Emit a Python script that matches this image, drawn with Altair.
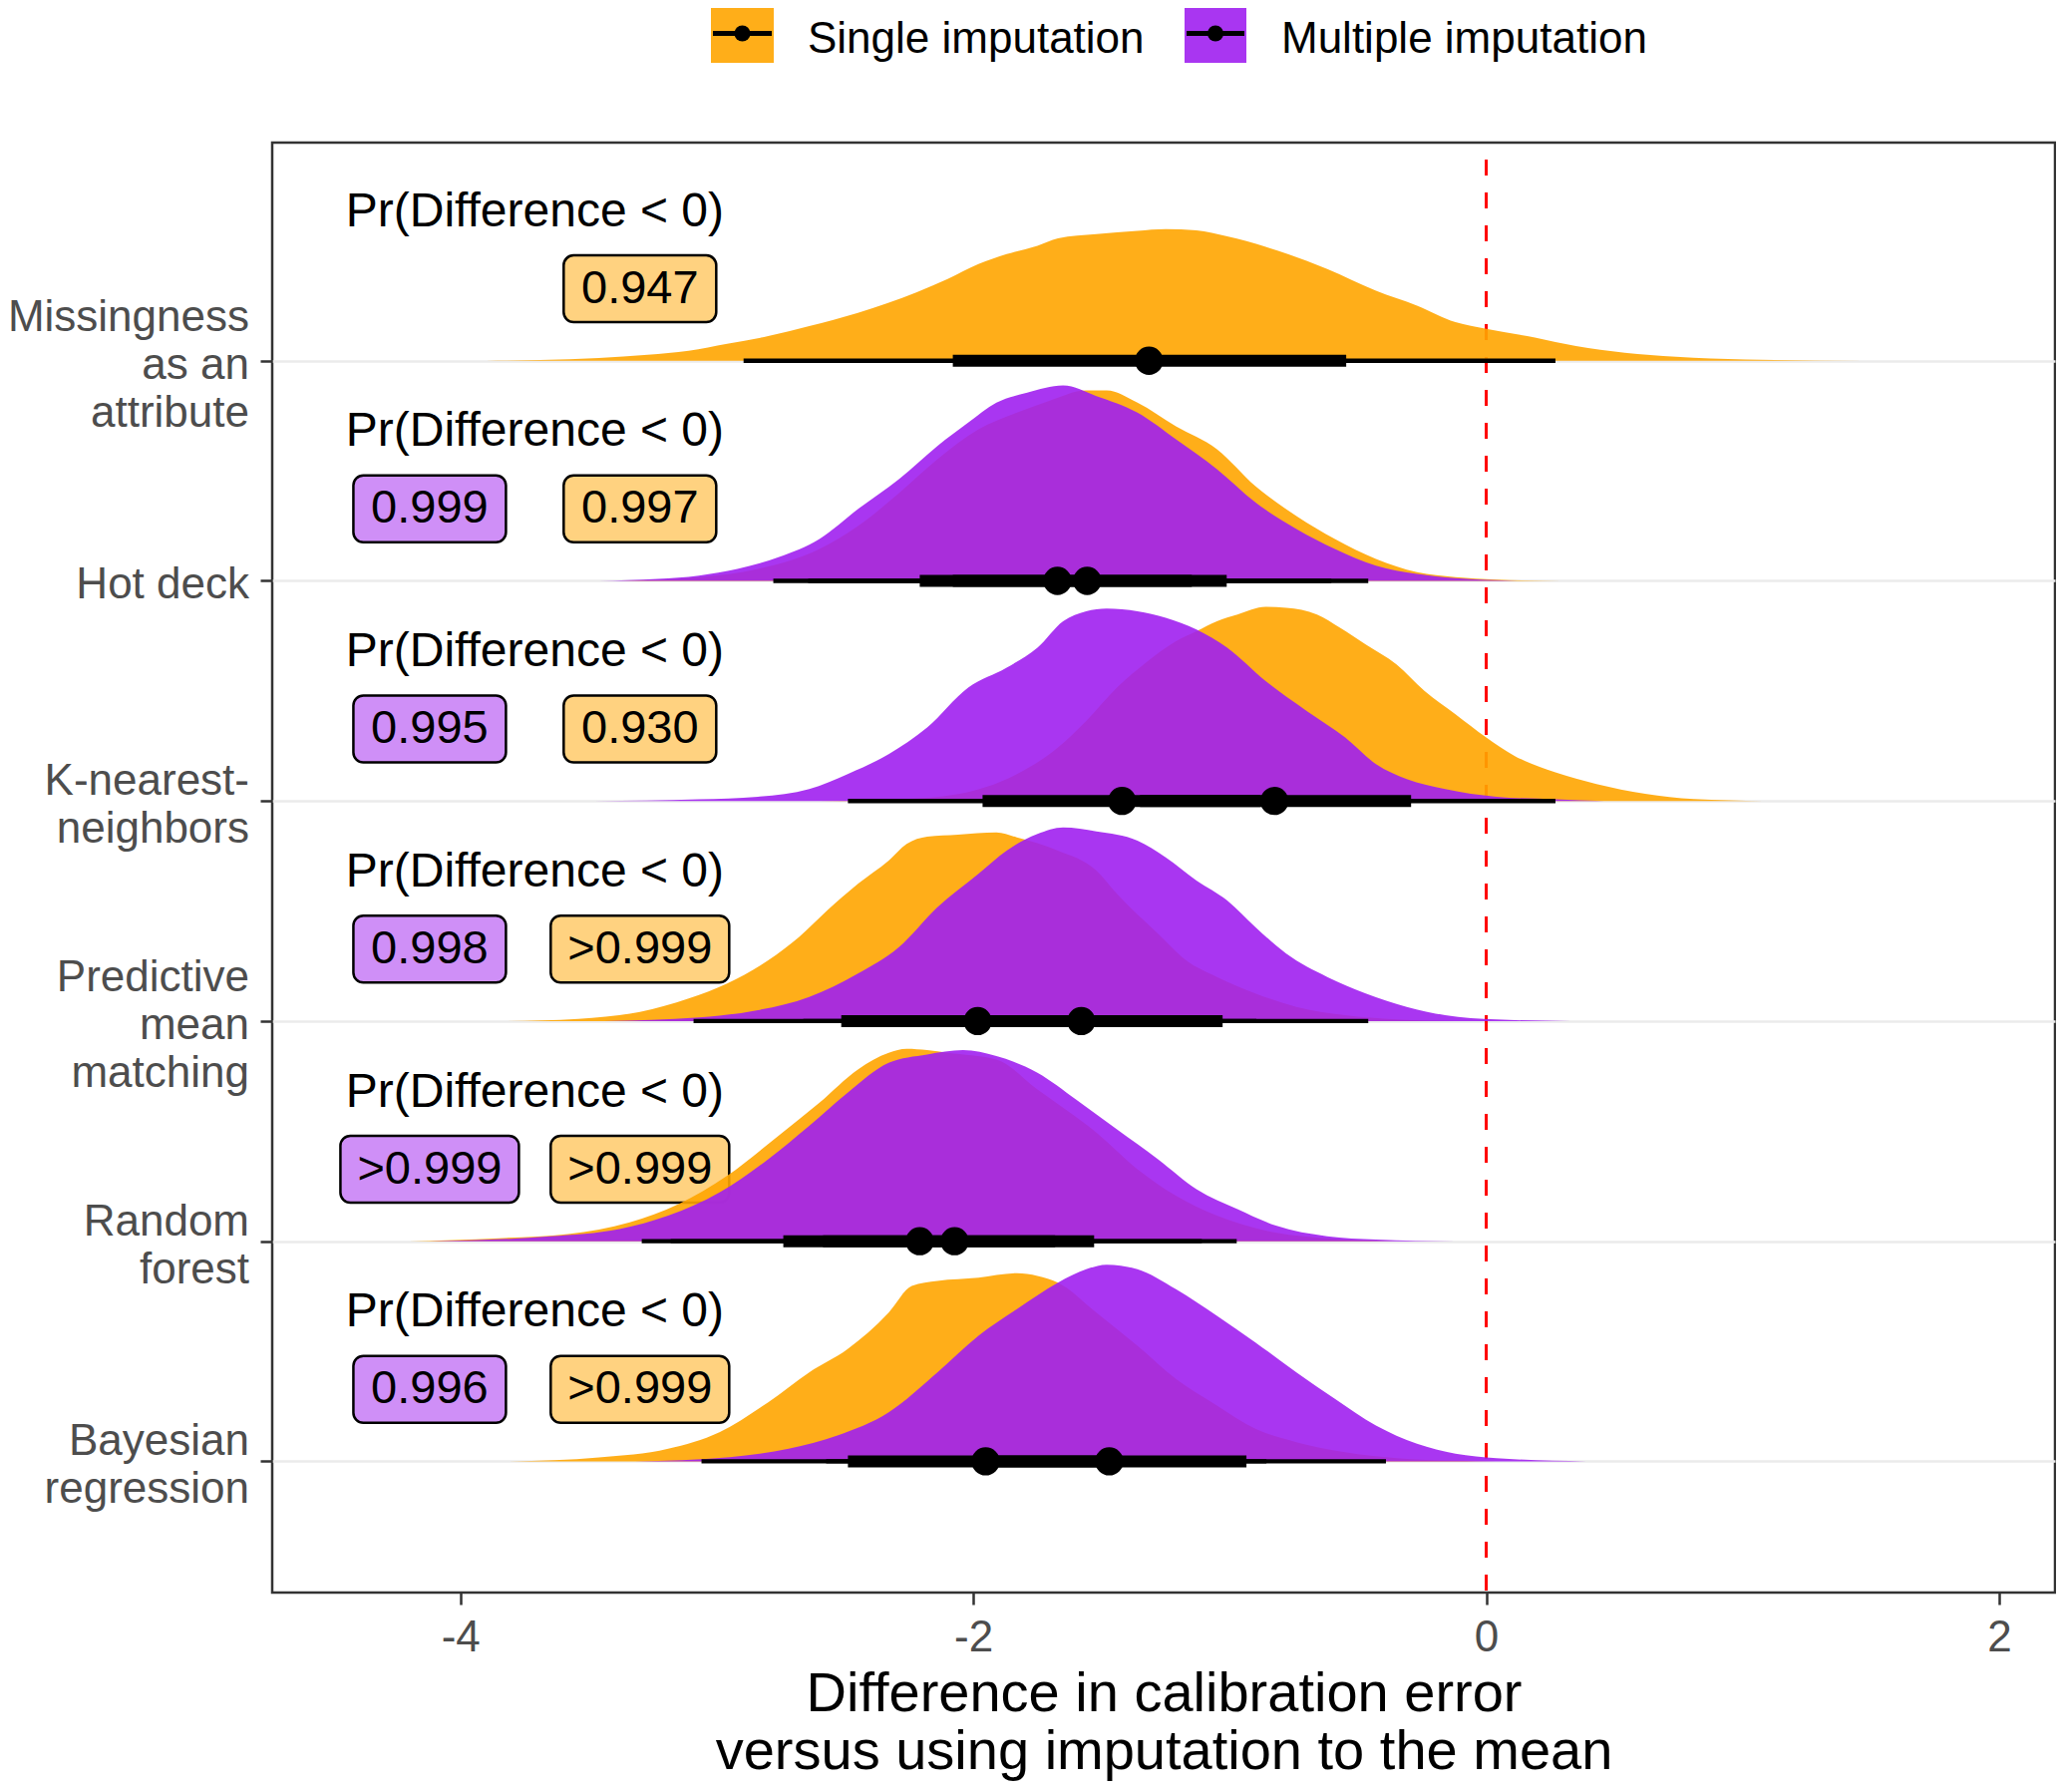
import altair as alt
import pandas as pd

FONT = "Liberation Sans"

# ---------------- data ----------------
METHODS = ["Missingness as an attribute", "Hot deck", "K-nearest-neighbors",
           "Predictive mean matching", "Random forest", "Bayesian regression"]
METHOD_LINES = [["Missingness", "as an", "attribute"], ["Hot deck"], ["K-nearest-", "neighbors"],
                ["Predictive", "mean", "matching"], ["Random", "forest"], ["Bayesian", "regression"]]
IMPUTATIONS = ["Single imputation", "Multiple imputation"]
FILL = {"Single imputation": "#FFA500", "Multiple imputation": "#A020F0"}
LABEL_FILL = {"Single imputation": "#FFD280", "Multiple imputation": "#CF8FF7"}

X_TICKS = [-4, -2, 0, 2]
X_TITLE = ["Difference in calibration error", "versus using imputation to the mean"]

# posterior densities (x = difference, d = density height)
MISS_SI_X = [-3.90, -3.69, -3.46, -3.27, -3.11, -2.96, -2.80, -2.64, -2.45, -2.22, -2.10, -1.98, -1.87, -1.75,
             -1.67, -1.52, -1.36, -1.25, -1.13, -1.01, -0.86, -0.62, -0.43, -0.27, -0.12, 0.00, 0.19, 0.35,
             0.54, 0.74, 1.01, 1.47]
MISS_SI_D = [0, 0.7, 2.7, 6, 10, 17, 24.7, 34.7, 48, 68.7, 82, 97, 107, 115.3, 122.7, 127, 130.3, 132, 130.7,
             124.7, 114.3, 92, 70.3, 55.3, 38.7, 32, 23.3, 14.7, 8, 4, 1.3, 0]

HOT_SI_X = [-3.38, -3.07, -2.84, -2.60, -2.45, -2.29, -2.14, -1.98, -1.83, -1.71, -1.56, -1.48, -1.36, -1.21,
            -1.05, -0.90, -0.74, -0.59, -0.43, -0.27, -0.12, 0.04, 0.29]
HOT_SI_D = [0, 3.7, 12, 32, 55, 88, 122, 152, 168.7, 180, 191, 191, 178.7, 155, 132, 95, 65, 42, 22, 8.7, 3.7,
            1.3, 0]
HOT_MI_X = [-3.46, -3.23, -3.07, -2.92, -2.76, -2.60, -2.45, -2.29, -2.14, -2.02, -1.91, -1.79, -1.65, -1.52,
            -1.36, -1.21, -1.05, -0.90, -0.74, -0.59, -0.43, -0.27, -0.12, 0.12]
HOT_MI_D = [0, 2, 5.3, 12, 23.7, 42, 72, 102, 135.3, 158.7, 178.7, 188.7, 196, 185.3, 168.7, 142, 112, 78.7,
            52, 32, 15.3, 7, 2.7, 0]

KNN_SI_X = [-2.60, -2.29, -2.06, -1.83, -1.67, -1.56, -1.44, -1.32, -1.21, -1.13, -1.05, -0.97, -0.86, -0.78,
            -0.66, -0.57, -0.47, -0.35, -0.24, -0.12, 0.00, 0.11, 0.27, 0.43, 0.62, 0.81, 1.08]
KNN_SI_D = [0, 1.7, 7, 27, 53.7, 80.3, 113.7, 140.3, 160.3, 170.3, 180.3, 187, 194.7, 193.7, 187, 173.7, 157,
            137, 110.3, 87, 63.7, 45.3, 28.7, 17, 7.3, 2, 0]
KNN_MI_X = [-3.48, -3.07, -2.84, -2.64, -2.49, -2.33, -2.18, -2.02, -1.87, -1.75, -1.65, -1.56, -1.48, -1.36,
            -1.25, -1.13, -1.01, -0.86, -0.70, -0.55, -0.43, -0.31, -0.16, 0.04, 0.27, 0.46]
KNN_MI_D = [0, 1.7, 4.3, 12, 27, 47, 73.7, 113.7, 133.7, 153.7, 180.3, 190.3, 193, 190.3, 183.7, 172, 153.7,
            120.3, 90.3, 63.7, 37, 22, 12, 4.3, 1.7, 0]

PMM_SI_X = [-3.83, -3.54, -3.30, -3.11, -2.96, -2.80, -2.68, -2.57, -2.45, -2.33, -2.26, -2.18, -2.06, -1.91,
            -1.83, -1.67, -1.52, -1.44, -1.28, -1.17, -1.05, -0.90, -0.74, -0.55, -0.35, -0.12]
PMM_SI_D = [0, 2.3, 9.3, 22.7, 37.7, 61, 84.3, 111, 137.7, 161, 177.7, 185, 187, 189.3, 184.3, 171, 151, 127.7,
            87.7, 61, 44.3, 27.7, 14.3, 6, 1.7, 0]
PMM_MI_X = [-3.44, -3.07, -2.84, -2.64, -2.45, -2.29, -2.14, -1.98, -1.87, -1.75, -1.65, -1.52, -1.36, -1.25,
            -1.13, -1.01, -0.90, -0.78, -0.62, -0.47, -0.31, -0.16, 0.04, 0.33]
PMM_MI_D = [0, 3.7, 11, 24.3, 47.7, 74.3, 114.3, 147.7, 171, 187.7, 194.3, 190.3, 181, 164.3, 141, 121, 94.3,
            67.7, 44.3, 27.7, 14.3, 6, 1.7, 0]

RF_SI_X = [-4.20, -3.85, -3.58, -3.34, -3.15, -2.96, -2.76, -2.60, -2.45, -2.33, -2.26, -2.18, -2.10, -1.91,
           -1.75, -1.52, -1.36, -1.21, -1.05, -0.86, -0.62, -0.35]
RF_SI_D = [0, 3, 7.3, 19, 37.3, 65.7, 105.7, 139, 172.3, 189, 193, 191.7, 189, 182.3, 152.3, 109, 72.3, 45.7,
           25.7, 10.7, 3, 0]
RF_MI_X = [-4.12, -3.65, -3.38, -3.19, -2.99, -2.80, -2.64, -2.49, -2.33, -2.18, -2.04, -1.91, -1.75, -1.60,
           -1.44, -1.28, -1.13, -0.97, -0.82, -0.62, -0.43, -0.12]
RF_MI_D = [0, 5, 12.3, 25.7, 49, 82.3, 115.7, 149, 179, 187.3, 191.7, 185.7, 169, 142.3, 112.3, 82.3, 52.3,
           32.3, 15.7, 5, 1.7, 0]

BAY_SI_X = [-3.81, -3.46, -3.19, -2.99, -2.80, -2.64, -2.49, -2.33, -2.24, -2.14, -1.98, -1.83, -1.75, -1.67,
            -1.52, -1.36, -1.21, -1.05, -0.90, -0.74, -0.55, -0.35, -0.12, 0.04]
BAY_SI_D = [0, 4, 12.7, 29.3, 59.3, 89.3, 112.7, 149.3, 176, 181, 184.3, 188.7, 186, 179.3, 149.3, 116, 82.7,
            56, 32.7, 19.3, 9.3, 3.3, 0.7, 0]
BAY_MI_X = [-3.32, -2.95, -2.72, -2.53, -2.33, -2.14, -1.98, -1.83, -1.67, -1.56, -1.48, -1.36, -1.21, -1.05,
            -0.90, -0.74, -0.59, -0.43, -0.27, -0.12, 0.04, 0.39]
BAY_MI_D = [0, 4.3, 12.7, 26, 49.3, 89.3, 126, 152.7, 179.3, 192.7, 197.3, 192.7, 172.7, 146, 119.3, 89.3,
            62.7, 36, 17.7, 7.7, 3.3, 0]

SI_DENS = [(MISS_SI_X, MISS_SI_D), (HOT_SI_X, HOT_SI_D), (KNN_SI_X, KNN_SI_D),
           (PMM_SI_X, PMM_SI_D), (RF_SI_X, RF_SI_D), (BAY_SI_X, BAY_SI_D)]
MI_DENS = [None, (HOT_MI_X, HOT_MI_D), (KNN_MI_X, KNN_MI_D),
           (PMM_MI_X, PMM_MI_D), (RF_MI_X, RF_MI_D), (BAY_MI_X, BAY_MI_D)]

# point + interval summaries (median, 66% and 95% intervals)
SI_MED = [-1.315, -1.556, -0.826, -1.983, -2.209, -1.952]
SI_LO66 = [-2.080, -2.080, -1.350, -2.515, -2.741, -2.489]
SI_HI66 = [-0.546, -1.012, -0.293, -1.459, -1.681, -1.420]
SI_LO95 = [-2.896, -2.644, -1.950, -3.091, -3.293, -3.060]
SI_HI95 = [0.270, -0.460, 0.270, -0.896, -1.109, -0.857]

MI_MED = [None, -1.672, -1.420, -1.579, -2.073, -1.470]
MI_LO66 = [None, -2.209, -1.964, -2.100, -2.586, -1.906]
MI_HI66 = [None, -1.148, -0.880, -1.028, -1.529, -0.935]
MI_LO95 = [None, -2.780, -2.489, -2.663, -3.180, -2.574]
MI_HI95 = [None, -0.604, -0.350, -0.460, -0.973, -0.391]

PR_TEXT = "Pr(Difference < 0)"
SI_PROB = ["0.947", "0.997", "0.930", ">0.999", ">0.999", ">0.999"]
MI_PROB = [None, "0.999", "0.995", "0.998", ">0.999", "0.996"]

# annotation placement (data units)
PR_X, PR_DY = -3.71, 0.612
BOX_X = {"Single imputation": -3.30, "Multiple imputation": -4.12}
BOX_DY = 0.327

# ---------------- layout ----------------
ROW_PX = 220.76
LABEL_LINE_PX = 48
X_DOMAIN = [-4.734, 2.218]
Y_DOMAIN = [0.404, 6.991]
W, H = 1788, 1454

n = len(METHODS)


def row_of(i):
    return n - i


dens_rows, int_rows, lab_rows, pr_rows, ylab_rows = [], [], [], [], []
for i, m in enumerate(METHODS):
    r = row_of(i)
    pr_rows.append({"method": m, "x": PR_X, "y": r + PR_DY, "text": PR_TEXT})
    lines = METHOD_LINES[i]
    for k, line in enumerate(lines):
        ylab_rows.append({"text": line, "y": r + ((len(lines) - 1) / 2 - k) * LABEL_LINE_PX / ROW_PX})
    per_imp = [
        ("Single imputation", SI_DENS[i], SI_MED[i], SI_LO66[i], SI_HI66[i], SI_LO95[i], SI_HI95[i], SI_PROB[i]),
        ("Multiple imputation", MI_DENS[i], MI_MED[i], MI_LO66[i], MI_HI66[i], MI_LO95[i], MI_HI95[i], MI_PROB[i]),
    ]
    for imp, dens, med, lo66, hi66, lo95, hi95, prob in per_imp:
        if dens is not None:
            for x, d in zip(*dens):
                dens_rows.append({"method": m, "imputation": imp, "x": x, "base": r, "top": r + d / ROW_PX})
        if med is not None:
            int_rows.append({"method": m, "imputation": imp, "row": r, "med": med,
                             "lo66": lo66, "hi66": hi66, "lo95": lo95, "hi95": hi95})
        if prob is not None:
            lab_rows.append({"method": m, "imputation": imp, "text": prob, "bx": BOX_X[imp],
                             "by": r + BOX_DY, "fill": LABEL_FILL[imp]})

dens_df = pd.DataFrame(dens_rows)
int_df = pd.DataFrame(int_rows)
lab_df = pd.DataFrame(lab_rows)
pr_df = pd.DataFrame(pr_rows)
ylab_df = pd.DataFrame(ylab_rows)

xs = alt.Scale(domain=X_DOMAIN, nice=False, zero=False)
ys = alt.Scale(domain=Y_DOMAIN, nice=False, zero=False)

x_axis = alt.Axis(values=X_TICKS, labelExpr="datum.value < 0 ? '-' + abs(datum.value) : '' + datum.value",
                  grid=False, domain=False, tickSize=12, tickWidth=2.5, tickColor="#333333",
                  labelFont=FONT, labelFontSize=44, labelColor="#4D4D4D", labelPadding=11,
                  title=X_TITLE, titleFont=FONT, titleFontSize=56, titleFontWeight="normal",
                  titleColor="black", titleLineHeight=58, titlePadding=7)
y_axis = alt.Axis(values=[row_of(i) for i in range(n)], labels=False,
                  grid=True, gridColor="#EBEBEB", gridWidth=2.7, domain=False,
                  tickSize=12, tickWidth=2.5, tickColor="#333333", title=None)


def X(field):
    return alt.X(field, type="quantitative", scale=xs, axis=x_axis)


def Y(field):
    return alt.Y(field, type="quantitative", scale=ys, axis=y_axis)


vline = alt.Chart(pd.DataFrame({"zero": [0]})).mark_rule(
    color="#FF0000", strokeWidth=3, strokeDash=[16, 17], strokeDashOffset=16
).encode(x=X("zero"))

# category labels on the left of the panel
ylabels = alt.Chart(ylab_df).mark_text(font=FONT, fontSize=44, color="#4D4D4D", align="right",
                                       baseline="middle", dy=5).encode(
    x=alt.value(-23), y=Y("y"), text="text:N")

box_common = dict(height=67, cornerRadius=10, stroke="black", strokeWidth=2.5)
box_enc = dict(x=X("bx"), y=Y("by"), fill=alt.Fill("fill:N", scale=None))
boxes5 = alt.Chart(lab_df).transform_filter("length(datum.text) <= 5").mark_rect(
    width=153, **box_common).encode(**box_enc)
boxes6 = alt.Chart(lab_df).transform_filter("length(datum.text) > 5").mark_rect(
    width=179, **box_common).encode(**box_enc)
box_text = alt.Chart(lab_df).mark_text(font=FONT, fontSize=47, color="black", align="center",
                                       baseline="middle").encode(x=X("bx"), y=Y("by"), text="text:N")
pr_text = alt.Chart(pr_df).mark_text(font=FONT, fontSize=48, color="black", align="center",
                                     baseline="alphabetic").encode(x=X("x"), y=Y("y"), text="text:N")


def dens_layer(imp):
    return alt.Chart(dens_df).transform_filter(alt.datum.imputation == imp).mark_area(
        interpolate="monotone", opacity=0.9, color=FILL[imp]
    ).encode(x=X("x"), y=Y("top"), y2="base:Q", detail="method:N")


thin = alt.Chart(int_df).mark_rule(color="black", strokeWidth=4.3, strokeCap="butt").encode(
    x=X("lo95"), x2="hi95:Q", y=Y("row"))
thick = alt.Chart(int_df).mark_rule(color="black", strokeWidth=12, strokeCap="butt").encode(
    x=X("lo66"), x2="hi66:Q", y=Y("row"))
pts = alt.Chart(int_df).mark_point(filled=True, shape="circle", size=800, color="black", opacity=1).encode(
    x=X("med"), y=Y("row"))

# legend (drawn by hand above the panel)
legend_layers = []
LEG_KEY_X = {"Single imputation": (440, 503), "Multiple imputation": (915, 977)}
LEG_TEXT_X = {"Single imputation": 537, "Multiple imputation": 1012}
for imp in IMPUTATIONS:
    d = pd.DataFrame({"label": [imp]})
    x1, x2 = LEG_KEY_X[imp]
    cx = (x1 + x2) / 2
    legend_layers += [
        alt.Chart(d).mark_rect(color=FILL[imp], opacity=0.9).encode(
            x=alt.value(x1), x2=alt.value(x2), y=alt.value(-139), y2=alt.value(-80)),
        alt.Chart(d).mark_rule(color="black", strokeWidth=5).encode(
            x=alt.value(x1 + 2), x2=alt.value(x2 - 2), y=alt.value(-109.5)),
        alt.Chart(d).mark_point(filled=True, shape="circle", size=256, color="black", opacity=1).encode(
            x=alt.value(cx), y=alt.value(-109.5)),
        alt.Chart(d).mark_text(font=FONT, fontSize=44, color="black", align="left",
                               baseline="alphabetic").encode(
            x=alt.value(LEG_TEXT_X[imp]), y=alt.value(-90), text="label:N"),
    ]

chart = alt.layer(
    vline, ylabels, boxes5, boxes6, box_text, pr_text,
    dens_layer("Single imputation"),
    dens_layer("Multiple imputation"),
    thin, thick, pts,
    *legend_layers,
).properties(
    width=W, height=H,
    autosize=alt.AutoSizeParams(type="none"),
    padding={"left": 265, "top": 135, "right": 1, "bottom": 191},
    background="white",
).configure(font=FONT).configure_view(stroke="#333333", strokeWidth=2.5)

chart.save("out.html", embed_options={"renderer": "svg", "actions": False})
